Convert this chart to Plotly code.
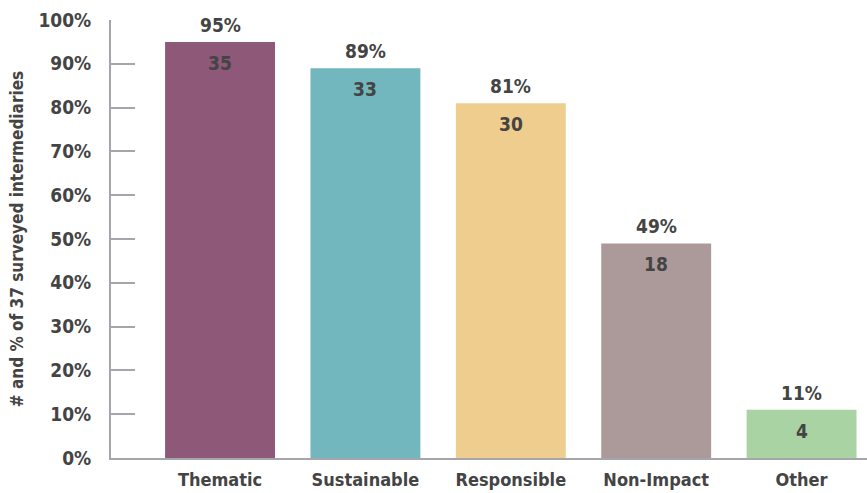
import plotly.graph_objects as go

categories = ["Thematic", "Sustainable", "Responsible", "Non-Impact", "Other"]
percentages = [95, 89, 81, 49, 11]
counts = [35, 33, 30, 18, 4]
colors = ["#8E5878", "#72B6BE", "#EECD8E", "#AC9A9B", "#A9D3A2"]

FONT = "DejaVu Sans Condensed, Liberation Sans Narrow, Roboto, sans-serif"
TXT = "#444444"
AX = "#A5A5AC"

fig = go.Figure()
fig.add_trace(go.Bar(
    x=categories, y=percentages, marker=dict(color=colors, line=dict(width=0)),
    width=0.756, hoverinfo="skip",
))

for c, p, n in zip(categories, percentages, counts):
    fig.add_annotation(x=c, y=p, text=f"<b>{p}%</b>", showarrow=False,
                       yanchor="bottom", yshift=4,
                       font=dict(family=FONT, size=19, color=TXT))
    fig.add_annotation(x=c, y=p, text=f"<b>{n}</b>", showarrow=False,
                       yanchor="middle", yshift=-21,
                       font=dict(family=FONT, size=19, color=TXT))

fig.update_layout(
    width=867, height=493,
    margin=dict(l=111, r=0, t=20, b=35),
    paper_bgcolor="white", plot_bgcolor="white",
    showlegend=False,
    font=dict(family=FONT, color=TXT),
    xaxis=dict(
        range=[-0.75, 4.45], showline=True, linecolor=AX, linewidth=2,
        ticks="", showgrid=False, zeroline=False,
        tickfont=dict(family=FONT, size=18, color=TXT),
        tickprefix="<b>", ticksuffix="</b>",
        ticklabelstandoff=4,
    ),
    yaxis=dict(
        range=[0, 100], dtick=10, tick0=0, showline=True, linecolor=AX, linewidth=2,
        ticks="inside", ticklen=24, tickwidth=2, tickcolor=AX,
        showgrid=False, zeroline=False,
        ticksuffix="%</b>", tickprefix="<b>",
        ticklabelstandoff=14,
        tickfont=dict(family=FONT, size=19, color=TXT),
        title=dict(text="<b># and % of 37 surveyed intermediaries</b>", standoff=10,
                   font=dict(family=FONT, size=17, color=TXT)),
    ),
)

fig.write_html("out.html")
